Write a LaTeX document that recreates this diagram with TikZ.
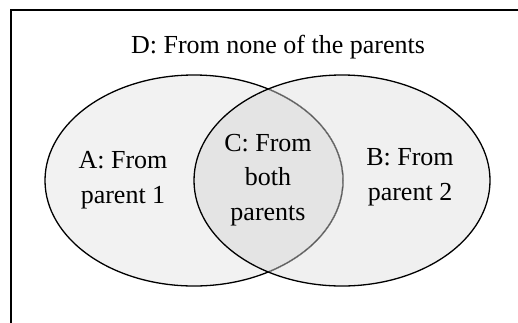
\documentclass[tikz,border=0pt]{standalone}
\usepackage{fontspec}
\setmainfont{Liberation Serif}
\begin{document}
\begin{tikzpicture}[x=1pt,y=-1pt,
  lbl/.style={font=\fontsize{26}{34.5}\selectfont, align=center, anchor=base, inner sep=0pt},
  outline/.style={line width=1.3pt}]
\clip (0,0) rectangle (518,322);
\path[fill=white] (0,0) rectangle (518,322);
\draw[line width=1.5pt] (11,10) rectangle (540,340);
% fills
\fill[gray!10] (194,180.5) ellipse [x radius=149, y radius=105.5];
\fill[gray!12] (342,180.5) ellipse [x radius=148, y radius=105.5];
\begin{scope}
  \clip (194,180.5) ellipse [x radius=149, y radius=105.5];
  \fill[gray!21] (342,180.5) ellipse [x radius=148, y radius=105.5];
\end{scope}
% outlines
\draw[outline] (194,180.5) ellipse [x radius=149, y radius=105.5];
\begin{scope}
  \clip (342,180.5) ellipse [x radius=148, y radius=105.5];
  \draw[outline, gray!21] (194,180.5) ellipse [x radius=149, y radius=105.5];
  \draw[line width=1pt, black!65] (194,180.5) ellipse [x radius=149, y radius=105.5];
\end{scope}
\draw[outline] (342,180.5) ellipse [x radius=148, y radius=105.5];
% labels
\node[lbl] (d) at (278,53) {D: From none of the parents};
\node[lbl] (a) at (123,203) {A: From\\parent 1};
\node[lbl] (c) at (268,220) {C: From\\both\\parents};
\node[lbl] (b) at (410,200) {B: From\\parent 2};
\end{tikzpicture}
\end{document}
